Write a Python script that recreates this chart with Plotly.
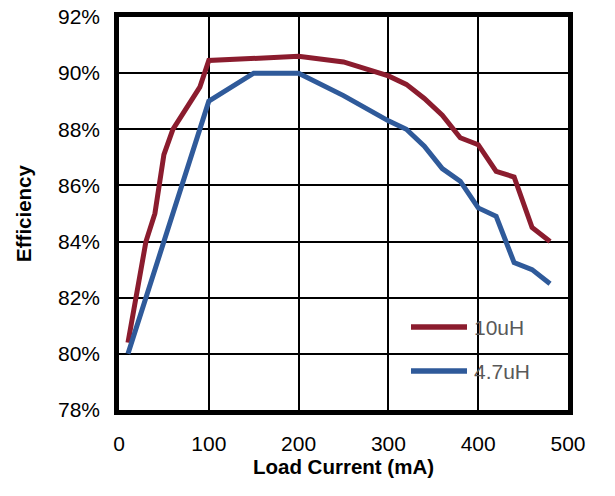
import plotly.graph_objects as go

# Data
load_10uH = [10, 30, 40, 50, 60, 90, 100, 200, 250, 300, 320, 340, 360, 380, 400, 420, 440, 460, 480]
eff_10uH = [80.4, 84.0, 85.0, 87.1, 88.0, 89.5, 90.45, 90.6, 90.4, 89.9, 89.6, 89.1, 88.5, 87.7, 87.45, 86.5, 86.3, 84.5, 84.0]

load_4u7H = [10, 100, 150, 200, 250, 300, 320, 340, 360, 380, 400, 420, 440, 460, 480]
eff_4u7H = [80.0, 89.0, 90.0, 90.0, 89.2, 88.3, 88.0, 87.4, 86.6, 86.15, 85.2, 84.9, 83.25, 83.0, 82.5]

series_names = ["10uH", "4.7uH"]
series_colors = ["#8B1C2E", "#2F5A9A"]

x_ticks = [0, 100, 200, 300, 400, 500]
y_ticks = [78, 80, 82, 84, 86, 88, 90, 92]
y_tick_labels = [f"{v}%" for v in y_ticks]

FONT = "Liberation Sans, Arial, sans-serif"

# target plot-area box in screen pixels (page body margin removed below)
W, H = 615, 496
PL, PR, PT, PB = 119, 568, 17, 410
L, R, T, B = PL, W - PR, PT, H - PB
pw, ph = PR - PL, PB - PT

def px(x):
    return (x - PL) / pw

def py(y):
    return (PB - y) / ph

fig = go.Figure()
for xs, ys, name, color in zip([load_10uH, load_4u7H], [eff_10uH, eff_4u7H], series_names, series_colors):
    fig.add_trace(go.Scatter(x=xs, y=ys, mode="lines", name=name,
                             line=dict(color=color, width=5), showlegend=False,
                             hoverinfo="skip"))

# Manual legend box (covers gridlines, not the frame)
fig.add_shape(type="rect", xref="paper", yref="paper",
              x0=px(388), x1=px(565), y0=py(403), y1=py(296),
              fillcolor="white", line=dict(width=0), layer="between")
for i, (name, color) in enumerate(zip(series_names, series_colors)):
    yy = py(327 + 44 * i)
    fig.add_shape(type="line", xref="paper", yref="paper",
                  x0=px(411), x1=px(467), y0=yy, y1=yy,
                  line=dict(color=color, width=5.5), layer="above")
    fig.add_annotation(xref="paper", yref="paper", x=px(472), y=yy,
                       text=name, showarrow=False, xanchor="left", yanchor="middle",
                       font=dict(family=FONT, size=21, color="#595959"))

fig.update_layout(
    width=W, height=H,
    margin=dict(l=L, r=R, t=T, b=B, autoexpand=False),
    paper_bgcolor="white", plot_bgcolor="white",
    font=dict(family=FONT, size=21, color="black"),
)
fig.update_xaxes(range=[0, 500], tickvals=x_ticks, showgrid=True, gridcolor="black", gridwidth=1.5,
                 showline=True, linecolor="black", linewidth=4.5, mirror=True,
                 ticks="", ticklabelstandoff=11, zeroline=False, automargin=False,
                 title=dict(text="<b>Load Current (mA)</b>", font=dict(size=20.5), standoff=1))
fig.update_yaxes(range=[78, 92], tickvals=y_ticks, ticktext=y_tick_labels, showgrid=True,
                 gridcolor="black", gridwidth=1.5,
                 showline=True, linecolor="black", linewidth=4.5, mirror=True,
                 ticks="", ticklabelstandoff=10, zeroline=False, automargin=False,
                 title=dict(text="<b>Efficiency</b>", font=dict(size=20.5), standoff=22))

fig.write_html("out.html", config={"displayModeBar": False},
               post_script="document.body.style.margin='0';document.body.style.overflow='hidden';")
